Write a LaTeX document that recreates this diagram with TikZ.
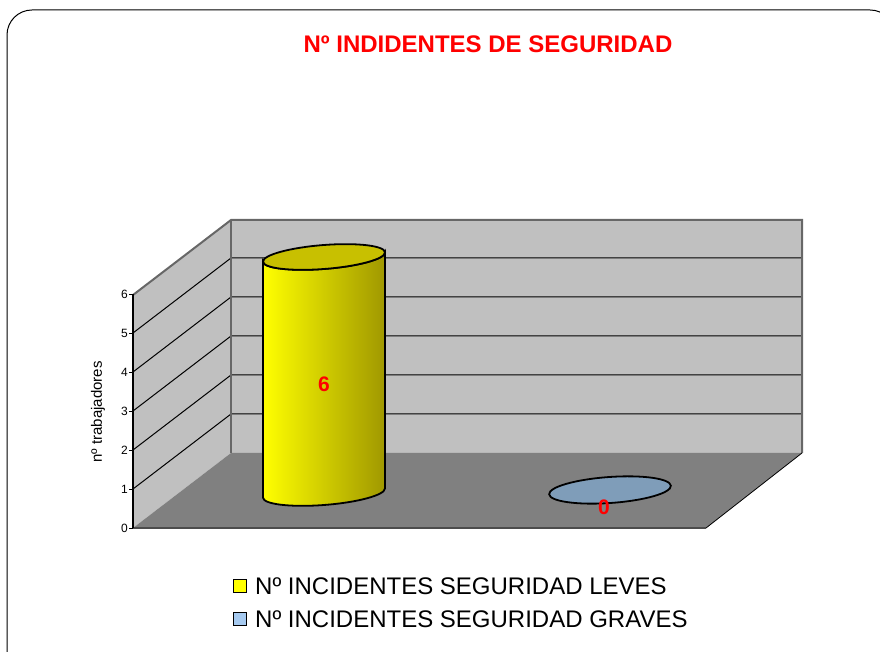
\documentclass[tikz,border=0pt]{standalone}
\usepackage{fontspec}
\setmainfont{Liberation Sans}
\usepackage{xcolor}
\usepackage{tikz}
\definecolor{wallgray}{RGB}{192,192,192}
\definecolor{floorgray}{RGB}{128,128,128}
\definecolor{cylyellow}{RGB}{255,255,0}
\definecolor{cyldark}{RGB}{160,152,0}
\definecolor{cyltop}{RGB}{200,192,0}
\definecolor{discblue}{RGB}{127,157,185}
\definecolor{legblue}{RGB}{166,202,240}
\tikzset{
  grid line/.style={black, line width=1pt},
  value/.style={text=red, font=\bfseries\fontsize{21}{21}\selectfont},
  tick label/.style={anchor=east, font=\fontsize{12}{12}\selectfont, inner sep=1pt},
  legend box/.style={draw=black, line width=1.4pt, minimum size=13pt, inner sep=0pt},
  legend text/.style={anchor=west, font=\fontsize{24}{24}\selectfont, inner sep=0pt}
}

\begin{document}
\begin{tikzpicture}[x=1pt, y=1pt]
		\useasboundingbox (0,0) rectangle (880,652);
		\clip (0,0) rectangle (880,652);
		% frame
		\draw[line width=1pt, rounded corners=25pt] (7,642) rectangle (895,-40);
		% title
		\node[text=red, font=\bfseries\fontsize{24}{24}\selectfont] (title) at (488,608) {Nº INDIDENTES DE SEGURIDAD};
		% back wall
		\fill[wallgray] (231,199) rectangle (802,432);
		% side wall
		\fill[wallgray] (133,124) -- (231,199) -- (231,432) -- (133,357) -- cycle;
		% floor
		\fill[floorgray] (133,124) -- (231,199) -- (802,199) -- (706,124) -- cycle;
		% grid
		\foreach \k in {1,...,5} {
			\draw[grid line] (133,124+39*\k) -- (231,199+39*\k) -- (802,199+39*\k);
		}
		\draw[floorgray!80!black, line width=2pt] (133,357) -- (231,432) -- (802,432) -- (802,199);
		\draw[floorgray!80!black, line width=2pt] (231,432) -- (231,199);
		\draw[black, line width=0.8pt] (706,124) -- (802,199);
		\draw[black!70, line width=1.5pt] (133,124) -- (706,124);
		% axis
		\draw[black, line width=1.5pt] (133,124) -- (133,358);
		\foreach \k in {0,...,6} {
			\draw[black] (129,124+39*\k) -- (133,124+39*\k);
			\node[tick label] (t\k) at (129,124+39*\k) {\k};
		}
		\node[rotate=90, font=\fontsize{15}{15}\selectfont] (ylab) at (98,240) {nº trabajadores};
		% cylinder
		\begin{scope}[shift={(324,277)}, yslant=0.075]
			\shade[left color=cylyellow, right color=cyldark, draw=black, line width=1.8pt]
				(-61,118) -- (-61,-118) arc[start angle=180, end angle=360, x radius=61, y radius=12]
				-- (61,118) arc[start angle=0, end angle=-180, x radius=61, y radius=12] -- cycle;
			\filldraw[fill=cyltop, draw=black, line width=1.8pt] (0,118) ellipse[x radius=61, y radius=12];
		\end{scope}
		\node[value] (val6) at (324,268) {6};
		% flat disc
		\filldraw[fill=discblue, draw=black, line width=1.8pt, rotate around={4:(610,162)}] (610,162) ellipse[x radius=61, y radius=13];
		\node[value] (val0) at (604,145) {0};
		% legend
		\node[legend box, fill=cylyellow] (boxleves) at (240,66) {};
		\node[legend text] (legleves) at (255,66) {Nº INCIDENTES SEGURIDAD LEVES};
		\node[legend box, fill=legblue] (boxgraves) at (240,33) {};
		\node[legend text] (leggraves) at (255,33) {Nº INCIDENTES SEGURIDAD GRAVES};
	\end{tikzpicture}
\end{document}
